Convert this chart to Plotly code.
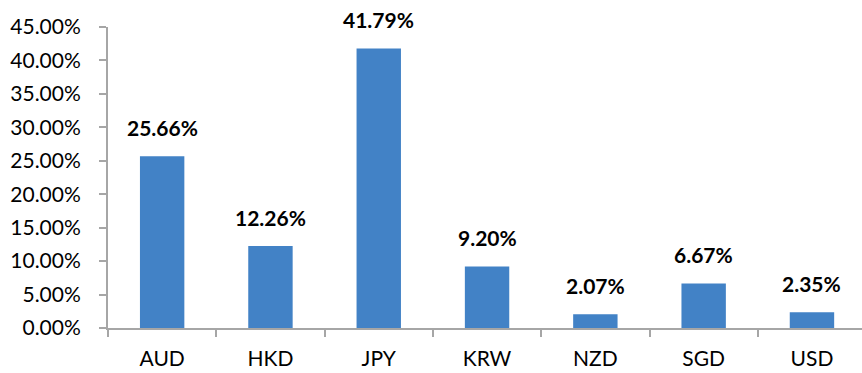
import plotly.graph_objects as go

categories = ["AUD", "HKD", "JPY", "KRW", "NZD", "SGD", "USD"]
values = [25.66, 12.26, 41.79, 9.20, 2.07, 6.67, 2.35]
tick_vals = [0, 5, 10, 15, 20, 25, 30, 35, 40, 45]
tick_text = [f"{v:.2f}%" for v in tick_vals]
labels = [f"{v:.2f}%" for v in values]

font_family = "Lato, 'Open Sans', sans-serif"
axis_color = "#a6a6a6"

fig = go.Figure()
fig.add_trace(go.Bar(
    x=categories,
    y=values,
    width=0.41,
    marker=dict(color="#4282c6", line=dict(width=0)),
    hoverinfo="skip",
))

for c, v, t in zip(categories, values, labels):
    fig.add_annotation(
        x=c, y=v, text=t, showarrow=False,
        yanchor="bottom", yshift=14,
        font=dict(family=font_family, size=21, color="#000000", weight="bold"),
    )

fig.update_layout(
    width=862, height=373,
    margin=dict(l=108, r=0, t=27, b=45),
    paper_bgcolor="white", plot_bgcolor="white",
    showlegend=False,
    bargap=0.59,
    font=dict(family=font_family, size=21, color="#000000"),
)
fig.update_xaxes(
    type="category",
    range=[-0.5, 6.462],
    automargin=False,
    showline=True, linecolor=axis_color, linewidth=2,
    ticks="outside", tickson="boundaries", ticklen=7, tickwidth=2, tickcolor=axis_color,
    showgrid=False, zeroline=False,
    tickfont=dict(family=font_family, size=21, color="#000000"),
    ticklabelstandoff=11,
)
fig.update_yaxes(
    range=[0, 45],
    automargin=False,
    tickvals=tick_vals, ticktext=tick_text,
    showline=True, linecolor=axis_color, linewidth=2,
    ticks="outside", ticklen=7, tickwidth=2, tickcolor=axis_color,
    showgrid=False, zeroline=False,
    tickfont=dict(family=font_family, size=21, color="#000000"),
    ticklabelstandoff=14,
)

fig.write_html("out.html")
